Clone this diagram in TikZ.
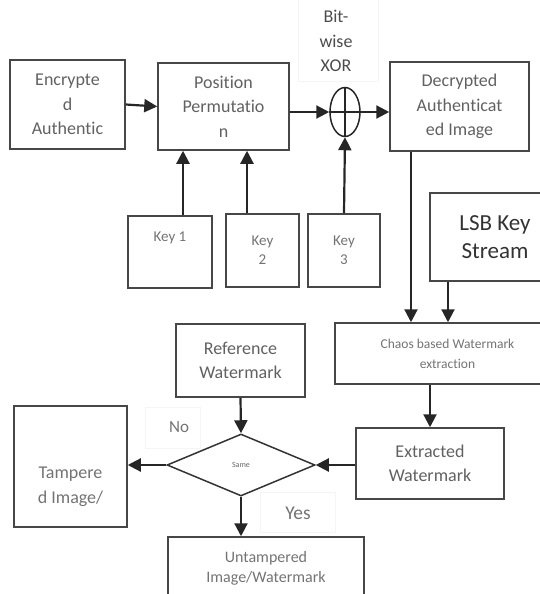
\documentclass[tikz,border=0pt]{standalone}
\usepackage{fontspec}
\setmainfont{Carlito}[Ligatures=NoCommon]
\usetikzlibrary{shapes.geometric,arrows.meta}
\tikzset{
  box/.style={draw=black!72, line width=1.5pt, rectangle, inner sep=0pt, align=center, text=black!62},
  txt/.style={inner sep=0pt, align=center, text=black!62},
  faint/.style={draw=black!4, line width=0.8pt},
  arr/.style={draw=black!85, line width=2.2pt, -{Triangle[length=13pt,width=13pt]}},
  big/.style={font=\fontsize{18}{24.5}\selectfont},
}
\begin{document}
\begin{tikzpicture}[x=1pt,y=-1pt]
\useasboundingbox (0,0) rectangle (539,594);
% faint label frames
\draw[faint] (298,-2) rectangle (378,81);
\draw[faint] (145,407) rectangle (200,448);
\draw[faint] (260,492) rectangle (335,532);
% boxes
\node[box,big,minimum width=115pt,minimum height=89pt] (enc) at (67.5,104.5) {Encrypte\\d\\Authentic};
\node[box,big,minimum width=131pt,minimum height=87pt] (pos) at (223.5,106.5) {Position\\Permutatio\\n};
\node[draw=black!85,line width=1.5pt,ellipse,inner sep=0pt,minimum width=30pt,minimum height=49pt] (xor) at (345,112) {};
\draw[black!85,line width=1.2pt] (xor.north) -- (xor.south) (xor.west) -- (xor.east);
\node[txt,big,text=black!70] (xorl) at (336,41) {Bit-\\wise\\XOR};
\node[box,big,minimum width=139pt,minimum height=89pt] (dec) at (459.5,106.5) {Decrypted\\Authenticat\\ed Image};
\node[box,minimum width=84pt,minimum height=72pt] (key1) at (170,252) {};
\node[txt,font=\fontsize{15}{19}\selectfont,text=black!55] (k1l) at (170,238) {Key 1};
\node[box,font=\fontsize{15}{19}\selectfont,text=black!55,minimum width=73pt,minimum height=73pt] (key2) at (262.5,250.5) {Key\\2};
\node[box,font=\fontsize{15}{19}\selectfont,text=black!55,minimum width=72pt,minimum height=73pt] (key3) at (344,250.5) {Key\\3};
\node[box,font=\fontsize{23}{28}\selectfont,text=black!80,minimum width=130pt,minimum height=88pt] (lsb) at (495,237) {LSB Key\\Stream};
\node[box,font=\fontsize{13.5}{20}\selectfont,text=black!55,minimum width=225pt,minimum height=61pt] (chaos) at (447.5,353.5) {Chaos based Watermark\\extraction};
\node[box,big,minimum width=129pt,minimum height=73pt] (ref) at (240.5,360.5) {Reference\\Watermark};
\node[draw=black!80,line width=1.5pt,diamond,inner sep=0pt,minimum width=148pt,minimum height=62pt,font=\fontsize{8}{9}\selectfont,text=black!60] (dia) at (241,465) {Same};
\node[box,big,minimum width=148pt,minimum height=71pt] (extr) at (430,463.5) {Extracted\\Watermark};
\node[box,minimum width=113pt,minimum height=121pt] (tamp) at (70.5,466.5) {};
\node[txt,big,text=black!55] (tampl) at (70.5,487) {Tampere\\d Image/};
\node[box,font=\fontsize{16}{20}\selectfont,text=black!55,minimum width=196pt,minimum height=63pt] (untamp) at (266,568.5) {Untampered\\Image/Watermark};
\node[txt,font=\fontsize{17}{20}\selectfont,text=black!55] (nol) at (179,427) {No};
\node[txt,font=\fontsize{19.5}{22}\selectfont,text=black!55] (yesl) at (298,513) {Yes};
% connectors
\draw[arr] (enc.east) -- (pos.west);
\draw[arr] (pos.east |- xor.west) -- (xor.west);
\draw[arr] (xor.east) -- (xor.east -| dec.west);
\draw[arr] ([xshift=13pt]key1.north) -- ([xshift=13pt]key1.north |- pos.south);
\draw[arr] ([xshift=-15.5pt]key2.north) -- ([xshift=-15.5pt]key2.north |- pos.south);
\draw[arr] (key3.north) -- (xor.south);
\draw[arr] ([xshift=-48.5pt]dec.south) -- ([xshift=-48.5pt]dec.south |- chaos.north);
\draw[arr] ([xshift=-47pt]lsb.south) -- ([xshift=-47pt]lsb.south |- chaos.north);
\draw[arr] (chaos.south -| extr.north) -- (extr.north);
\draw[arr] (ref.south) -- (dia.north);
\draw[arr] (extr.west |- dia.east) -- (dia.east);
\draw[arr] (dia.west) -- (dia.west -| tamp.east);
\draw[arr] (dia.south) -- (dia.south |- untamp.north);
\end{tikzpicture}
\end{document}
